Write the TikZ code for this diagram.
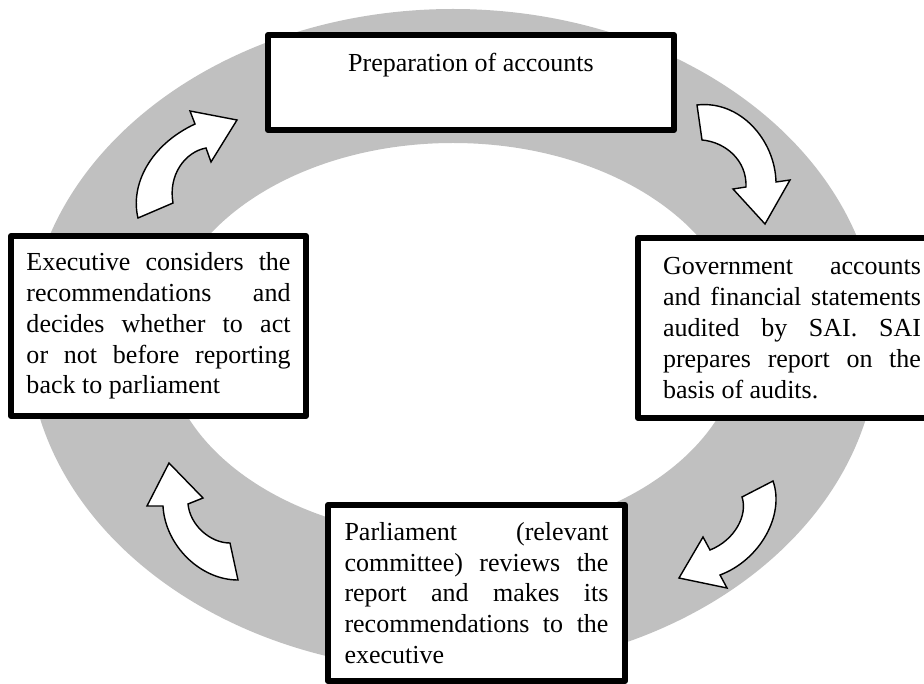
\documentclass[tikz,border=0pt]{standalone}
\usepackage{fontspec}
\setmainfont{Liberation Serif}
\usepackage{xcolor}
\usepackage{tikz}
\usetikzlibrary{positioning}
\definecolor{ringgray}{RGB}{192,192,192}
\tolerance=9999
\hyphenpenalty=10000

\begin{document}
\begin{tikzpicture}[
    font=\fontsize{18.5}{21.9}\selectfont,
    box/.style={draw, fill=white, line width=0.15cm, line join=round, inner sep=0pt, align=justify},
    bendarrow/.style={draw, fill=white, line width=1pt, line join=miter}
]
\useasboundingbox (0,0) rectangle (23.1,-17.1);
\clip (0,0) rectangle (23.1,-17.1);

% === RING ===
\fill[ringgray, even odd rule] (11.325,-8.5) ellipse [x radius=10.625, y radius=8.275]
    (11.325,-8.5) ellipse [x radius=7.2, y radius=4.925];

% === CURVED ARROWS ===
% left -> top
\draw[bendarrow] (3.45,-5.45) .. controls (3.25,-4.625) and (3.75,-3.625) .. (4.875,-3.1)
    -- (4.75,-2.775) -- (5.925,-3.0) -- (5.275,-4.05) -- (5.15,-3.7)
    .. controls (4.625,-3.8) and (4.2,-4.375) .. (4.325,-5.075) -- cycle;
% top -> right
\draw[bendarrow] (17.425,-2.625) .. controls (18.5,-2.5) and (19.375,-3.5) .. (19.4,-4.55)
    -- (19.75,-4.5) -- (19.125,-5.6) -- (18.325,-4.725) -- (18.65,-4.675)
    .. controls (18.675,-4.0) and (18.125,-3.55) .. (17.55,-3.5) -- cycle;
% right -> bottom
\draw[bendarrow] (19.325,-12.025) .. controls (19.625,-12.875) and (19.0,-14.0) .. (18.0,-14.375)
    -- (18.175,-14.7) -- (16.975,-14.45) -- (17.575,-13.425) -- (17.75,-13.75)
    .. controls (18.375,-13.5) and (18.7,-12.875) .. (18.55,-12.425) -- cycle;
% bottom -> left
\draw[bendarrow] (5.95,-14.5) .. controls (5.0,-14.5) and (4.125,-13.625) .. (4.075,-12.65)
    -- (3.675,-12.65) -- (4.225,-11.575) -- (5.075,-12.45) -- (4.7,-12.6)
    .. controls (4.75,-13.125) and (5.25,-13.575) .. (5.75,-13.575) -- cycle;

% === BOXES ===
\node[box, align=center, minimum width=10.15cm, text height=0.925cm, text depth=1.45cm, anchor=base] (prep) at (11.775,-1.8) {Preparation of accounts};

\node[box, text width=6.45cm, minimum width=7.7cm, minimum height=4.5cm] (audit) at (19.8,-8.2) {Government accounts\linebreak and financial statements\linebreak audited by SAI. SAI\linebreak prepares report on the\linebreak basis of audits.};

\node[box, text width=6.6cm, minimum width=7.425cm, minimum height=4.4cm] (parl) at (11.9125,-14.825) {Parliament (relevant\linebreak committee) reviews the\linebreak report and makes its\linebreak recommendations to the\linebreak executive};

\node[box, text width=6.6cm, minimum width=7.375cm, minimum height=4.5cm] (exec) at (3.9625,-8.15) {Executive considers the\linebreak recommendations and\linebreak decides whether to act\linebreak or not before reporting\linebreak back to parliament};

\end{tikzpicture}
\end{document}
